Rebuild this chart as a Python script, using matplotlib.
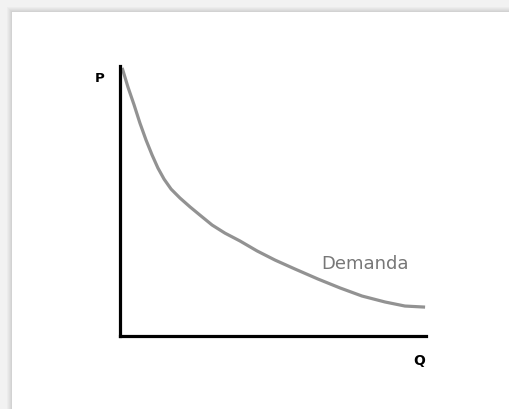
import matplotlib
matplotlib.use("Agg")
import matplotlib.pyplot as plt
from matplotlib.patches import Rectangle

# demand curve (arbitrary units, axes 0..10)
q = [0.07, 0.26, 0.46, 0.65, 0.85, 1.05, 1.24, 1.44, 1.67, 1.96, 2.29, 2.61,
     3.01, 3.43, 3.92, 4.48, 5.07, 5.72, 6.47, 7.19, 7.91, 8.66, 9.31, 9.97]
p = [9.93, 9.22, 8.56, 7.89, 7.26, 6.70, 6.22, 5.81, 5.44, 5.11, 4.78, 4.48,
     4.11, 3.81, 3.52, 3.15, 2.81, 2.48, 2.11, 1.78, 1.48, 1.26, 1.11, 1.07]

curve_label = "Demanda"
x_label = "Q"
y_label = "P"

W, H = 510, 410
fig = plt.figure(figsize=(W / 100, H / 100), dpi=100)
fig.patch.set_facecolor("#f2f2f2")

# card with a soft shadow on top/left
shades = ["#ececec", "#e6e6e6", "#e0e0e0", "#d9d9d9", "#d2d2d2"]
for i, c in enumerate(shades):
    x0 = (7 + i) / W
    y1 = 1 - (8 + i) / H
    fig.patches.append(Rectangle((x0, 0), 1 - x0, y1, transform=fig.transFigure,
                                 facecolor=c, edgecolor="none", zorder=-3))
cx0, cy1 = 12 / W, 1 - 13 / H
fig.patches.append(Rectangle((cx0, 0), 1 - cx0, cy1, transform=fig.transFigure,
                             facecolor="white", edgecolor="none", zorder=-2))

# axes: origin at pixel (120, 337), top at 67, right at 426
ax = fig.add_axes([120 / W, 1 - 337 / H, 306 / W, 270 / H])
ax.set_facecolor("none")
ax.set_xlim(0, 10)
ax.set_ylim(0, 10)
for s in ["top", "right"]:
    ax.spines[s].set_visible(False)
for s in ["left", "bottom"]:
    ax.spines[s].set_linewidth(2.3)
    ax.spines[s].set_color("black")
ax.set_xticks([])
ax.set_yticks([])

ax.plot(q, p, color="#929292", lw=2.3, solid_capstyle="butt",
        solid_joinstyle="round", clip_on=False)

ax.text(8.02, 2.70, curve_label, color="#777777", fontsize=13,
        family="DejaVu Sans", ha="center", va="center")
ax.text(-0.65, 9.56, y_label, fontsize=9.5, fontweight="bold",
        family="DejaVu Sans", ha="center", va="center")
ax.text(9.77, -0.89, x_label, fontsize=10, fontweight="bold",
        family="DejaVu Sans", ha="center", va="center")

fig.savefig("out.png", dpi=100, facecolor=fig.get_facecolor())
